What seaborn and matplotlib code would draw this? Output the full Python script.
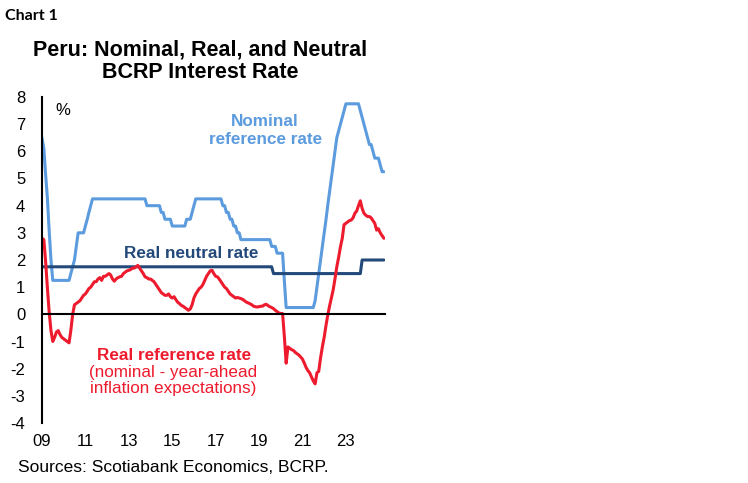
import matplotlib
matplotlib.use('Agg')
import numpy as np
import pandas as pd
import matplotlib.pyplot as plt
import seaborn as sns

# Tasa de referencia nominal (mensual, ene-2009 a oct-2024)
nom_2009 = [6.5, 6.1, 5.2, 4.3, 3.1, 2.0, 1.25, 1.25, 1.25, 1.25, 1.25, 1.25]
nom_2010 = [1.25, 1.25, 1.25, 1.25, 1.5, 1.75, 2.0, 2.5, 3.0, 3.0, 3.0, 3.0]
nom_2011 = [3.25, 3.5, 3.75, 4.0, 4.25, 4.25, 4.25, 4.25, 4.25, 4.25, 4.25, 4.25]
nom_2012 = [4.25, 4.25, 4.25, 4.25, 4.25, 4.25, 4.25, 4.25, 4.25, 4.25, 4.25, 4.25]
nom_2013 = [4.25, 4.25, 4.25, 4.25, 4.25, 4.25, 4.25, 4.25, 4.25, 4.25, 4.0, 4.0]
nom_2014 = [4.0, 4.0, 4.0, 4.0, 4.0, 4.0, 3.75, 3.75, 3.5, 3.5, 3.5, 3.5]
nom_2015 = [3.25, 3.25, 3.25, 3.25, 3.25, 3.25, 3.25, 3.25, 3.5, 3.5, 3.5, 3.75]
nom_2016 = [4.0, 4.25, 4.25, 4.25, 4.25, 4.25, 4.25, 4.25, 4.25, 4.25, 4.25, 4.25]
nom_2017 = [4.25, 4.25, 4.25, 4.25, 4.0, 4.0, 3.75, 3.75, 3.5, 3.5, 3.25, 3.25]
nom_2018 = [3.0, 3.0, 2.75, 2.75, 2.75, 2.75, 2.75, 2.75, 2.75, 2.75, 2.75, 2.75]
nom_2019 = [2.75, 2.75, 2.75, 2.75, 2.75, 2.75, 2.75, 2.5, 2.5, 2.5, 2.25, 2.25]
nom_2020 = [2.25, 2.25, 1.25, 0.25, 0.25, 0.25, 0.25, 0.25, 0.25, 0.25, 0.25, 0.25]
nom_2021 = [0.25, 0.25, 0.25, 0.25, 0.25, 0.25, 0.25, 0.5, 1.0, 1.5, 2.0, 2.5]
nom_2022 = [3.0, 3.5, 4.0, 4.5, 5.0, 5.5, 6.0, 6.5, 6.75, 7.0, 7.25, 7.5]
nom_2023 = [7.75, 7.75, 7.75, 7.75, 7.75, 7.75, 7.75, 7.75, 7.5, 7.25, 7.0, 6.75]
nom_2024 = [6.5, 6.25, 6.25, 6.0, 5.75, 5.75, 5.75, 5.5, 5.25, 5.25]

# Tasa real (nominal - expectativas de inflacion)
real_2009 = [2.8, 2.75, 2.0, 1.0, 0.1, -0.6, -1.0, -0.85, -0.65, -0.6, -0.75, -0.85]
real_2010 = [-0.9, -0.95, -1.0, -1.05, -0.6, 0.0, 0.35, 0.4, 0.45, 0.5, 0.6, 0.7]
real_2011 = [0.75, 0.85, 0.95, 1.0, 1.1, 1.2, 1.2, 1.3, 1.35, 1.25, 1.4, 1.4]
real_2012 = [1.45, 1.5, 1.45, 1.3, 1.22, 1.3, 1.35, 1.38, 1.4, 1.5, 1.55, 1.6]
real_2013 = [1.62, 1.65, 1.7, 1.7, 1.75, 1.8, 1.7, 1.6, 1.5, 1.38, 1.35, 1.3]
real_2014 = [1.3, 1.25, 1.2, 1.1, 1.0, 0.9, 0.8, 0.75, 0.7, 0.7, 0.75, 0.65]
real_2015 = [0.6, 0.65, 0.55, 0.45, 0.4, 0.33, 0.3, 0.25, 0.2, 0.15, 0.2, 0.35]
real_2016 = [0.6, 0.75, 0.85, 0.95, 1.0, 1.1, 1.25, 1.4, 1.5, 1.6, 1.62, 1.5]
real_2017 = [1.4, 1.38, 1.3, 1.2, 1.1, 1.0, 0.95, 0.85, 0.75, 0.7, 0.65, 0.6]
real_2018 = [0.62, 0.6, 0.58, 0.55, 0.5, 0.45, 0.42, 0.39, 0.35, 0.3, 0.28, 0.27]
real_2019 = [0.28, 0.3, 0.3, 0.35, 0.37, 0.32, 0.28, 0.25, 0.21, 0.15, 0.1, 0.05]
real_2020 = [0.03, 0.03, -0.8, -1.8, -1.2, -1.25, -1.3, -1.33, -1.4, -1.45, -1.5, -1.57]
real_2021 = [-1.65, -1.8, -1.95, -2.07, -2.15, -2.3, -2.45, -2.56, -2.15, -2.1, -1.6, -1.2]
real_2022 = [-0.84, -0.4, -0.04, 0.3, 0.6, 0.9, 1.3, 1.75, 2.1, 2.48, 2.8, 3.3]
real_2023 = [3.35, 3.4, 3.45, 3.47, 3.55, 3.72, 3.8, 4.0, 4.18, 3.9, 3.72, 3.65]
real_2024 = [3.6, 3.6, 3.55, 3.45, 3.35, 3.1, 3.15, 3.0, 2.9, 2.8]

# Tasa neutral real: tramos
neutral_levels = [1.75, 1.5, 2.0]
neutral_starts = ['2009-01-01', '2019-09-01', '2023-10-01']

tick_years = ['09', '11', '13', '15', '17', '19', '21', '23']

nominal = (nom_2009 + nom_2010 + nom_2011 + nom_2012 + nom_2013 + nom_2014 + nom_2015 + nom_2016
           + nom_2017 + nom_2018 + nom_2019 + nom_2020 + nom_2021 + nom_2022 + nom_2023 + nom_2024)
real = (real_2009 + real_2010 + real_2011 + real_2012 + real_2013 + real_2014 + real_2015 + real_2016
        + real_2017 + real_2018 + real_2019 + real_2020 + real_2021 + real_2022 + real_2023 + real_2024)

fechas = pd.date_range('2009-01-01', periods=len(nominal), freq='MS')
neutral = pd.Series(np.nan, index=fechas)
for nivel, inicio in zip(neutral_levels, neutral_starts):
    neutral[neutral.index >= pd.Timestamp(inicio)] = nivel

df = pd.DataFrame({'fecha': fechas, 'Nominal': nominal, 'Real': real, 'Neutral': neutral.values})
largo = df.melt(id_vars='fecha', var_name='serie', value_name='tasa')

sns.set_theme(style='white')
plt.rcParams['font.family'] = ['Liberation Sans', 'DejaVu Sans']
plt.rcParams['axes.unicode_minus'] = False
plt.rcParams['text.color'] = 'black'

azul = '#5B9BDE'
rojo = '#EE1B2E'
marino = '#23497A'
colores = {'Nominal': azul, 'Neutral': marino, 'Real': rojo}

fig = plt.figure(figsize=(7.48, 4.83), dpi=100)
W, H = 748, 483
ax = fig.add_axes([42 / W, 1 - 423 / H, 343 / W, 326 / H])

sns.lineplot(data=largo, x='fecha', y='tasa', hue='serie', palette=colores,
             hue_order=['Nominal', 'Neutral', 'Real'], linewidth=2.2, legend=False, ax=ax)

ax.set_ylim(-4, 8)
ax.set_xlim(pd.Timestamp('2009-01-01'), pd.Timestamp('2024-10-20'))
ax.set_yticks(range(-4, 9))
ax.set_xticks(pd.to_datetime(['20' + y + '-01-01' for y in tick_years]))
ax.set_xticklabels(tick_years)
ax.set_xlabel('')
ax.set_ylabel('')

for lado in ['top', 'right']:
    ax.spines[lado].set_visible(False)
ax.spines['bottom'].set_position(('data', 0))
for lado in ['left', 'bottom']:
    ax.spines[lado].set_color('black')
    ax.spines[lado].set_linewidth(1.5)
ax.tick_params(axis='y', direction='out', length=4, width=1.5, color='black',
               labelsize=12, labelcolor='black', pad=8)
ax.tick_params(axis='x', direction='out', length=4, width=1.5, color='black',
               labelsize=12, labelcolor='black', pad=82)


def px(x, y):
    return x / W, 1 - y / H


fig.text(*px(5, 16), 'Chart 1', fontsize=11.5, fontweight='bold', family=['Lato', 'DejaVu Sans'],
         ha='left', va='center')
fig.text(*px(200, 50), 'Peru: Nominal, Real, and Neutral', fontsize=15.5, fontweight='bold',
         ha='center', va='center')
fig.text(*px(200, 73), 'BCRP Interest Rate', fontsize=15.5, fontweight='bold',
         ha='center', va='center')
fig.text(*px(63, 110), '%', fontsize=12, ha='center', va='center')
fig.text(*px(265, 122), 'Nominal', fontsize=12.3, fontweight='bold', color=azul, ha='center', va='center')
fig.text(*px(266, 139), 'reference rate', fontsize=12.3, fontweight='bold', color=azul,
         ha='center', va='center')
fig.text(*px(191, 253), 'Real neutral rate', fontsize=12.3, fontweight='bold', color=marino,
         ha='center', va='center')
fig.text(*px(174, 355), 'Real reference rate', fontsize=12.3, fontweight='bold', color=rojo,
         ha='center', va='center')
fig.text(*px(173, 373), '(nominal - year-ahead', fontsize=12.3, color=rojo, ha='center', va='center')
fig.text(*px(173, 389), 'inflation expectations)', fontsize=12.3, color=rojo, ha='center', va='center')
fig.text(*px(18, 468), 'Sources: Scotiabank Economics, BCRP.', fontsize=12.5, ha='left', va='center')

fig.savefig('out.png', dpi=100)
